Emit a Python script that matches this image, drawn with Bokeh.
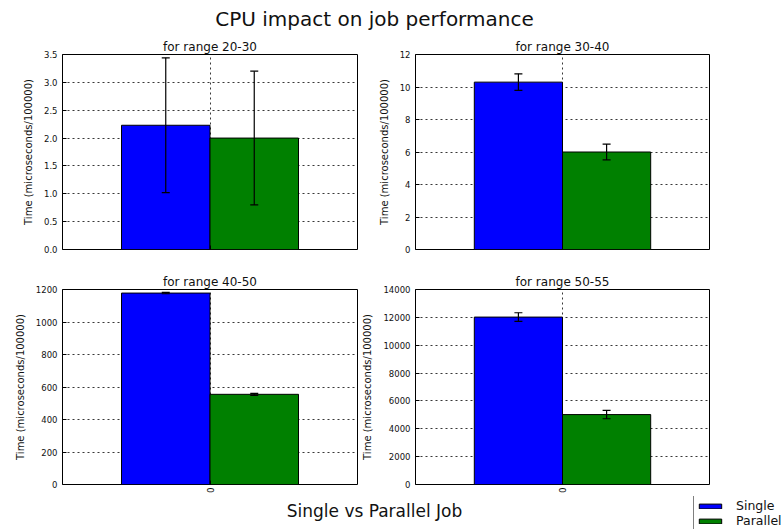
from bokeh.plotting import figure
from bokeh.layouts import column, row
from bokeh.models import (ColumnDataSource, Range1d, FixedTicker, NumeralTickFormatter,
                          Whisker, TeeHead, Legend, LegendItem)
from bokeh.transform import dodge
from bokeh.core.properties import value
from bokeh.embed import file_html
from bokeh.resources import INLINE

# ---- data -------------------------------------------------------------
age_ranges = ["20-30", "30-40", "40-50", "50-55"]
group = [0]
series = ["Single", "Parallel"]

single_time = [2.23, 10.3, 1178, 12020]
single_err = [1.21, 0.51, 4, 310]
parallel_time = [2.0, 6.0, 555, 5020]
parallel_err = [1.2, 0.49, 6, 300]

y_max = [3.5, 12, 1200, 14000]
y_ticks = [
    [0, 0.5, 1.0, 1.5, 2.0, 2.5, 3.0, 3.5],
    [0, 2, 4, 6, 8, 10, 12],
    [0, 200, 400, 600, 800, 1000, 1200],
    [0, 2000, 4000, 6000, 8000, 10000, 12000, 14000],
]
y_format = ["0.0", "0", "0", "0"]
colors = ["#0000ff", "#008000"]

FONT = "DejaVu Sans"
TXT = "#111111"
BAR_W = 0.3


def panel(i, width, height, b_left, b_right, b_top, b_bottom, show_xlabel):
    src = ColumnDataSource(dict(
        group=group,
        single=[single_time[i]],
        parallel=[parallel_time[i]],
        s_hi=[single_time[i] + single_err[i]],
        s_lo=[single_time[i] - single_err[i]],
        p_hi=[parallel_time[i] + parallel_err[i]],
        p_lo=[parallel_time[i] - parallel_err[i]],
    ))
    p = figure(width=width, height=height,
               x_range=Range1d(-0.5, 0.5), y_range=Range1d(0, y_max[i]),
               output_backend="svg", toolbar_location=None,
               min_border_left=b_left, min_border_right=b_right,
               min_border_top=b_top, min_border_bottom=b_bottom,
               background_fill_color="white", border_fill_color="white",
               outline_line_color="black", outline_line_width=1,
               outline_line_alpha=1.0)

    p.title.text = "for range " + age_ranges[i]
    p.title.align = "center"
    p.title.text_font = FONT
    p.title.text_font_size = "12px"
    p.title.text_font_style = "normal"
    p.title.text_color = TXT
    p.title.standoff = 2

    p.vbar(x=dodge("group", -BAR_W / 2), top="single", width=BAR_W,
           source=src, fill_color=colors[0], line_color="black", line_width=1)
    p.vbar(x=dodge("group", BAR_W / 2), top="parallel", width=BAR_W,
           source=src, fill_color=colors[1], line_color="black", line_width=1)

    for off, hi, lo in ((-BAR_W / 2, "s_hi", "s_lo"), (BAR_W / 2, "p_hi", "p_lo")):
        w = Whisker(source=src, base=dodge("group", off), upper=hi, lower=lo,
                    level="overlay", line_color="black", line_width=1.2,
                    upper_head=TeeHead(size=8, line_color="black", line_width=1.2),
                    lower_head=TeeHead(size=8, line_color="black", line_width=1.2))
        p.add_layout(w)

    # y axis
    p.yaxis.ticker = FixedTicker(ticks=y_ticks[i])
    p.yaxis.formatter = NumeralTickFormatter(format=y_format[i])
    p.yaxis.axis_label = "Time (microseconds/100000)"
    p.yaxis.axis_label_text_font = FONT
    p.yaxis.axis_label_text_font_size = "10px"
    p.yaxis.axis_label_text_font_style = "normal"
    p.yaxis.axis_label_text_color = TXT
    p.yaxis.axis_label_standoff = 7
    p.yaxis.major_label_text_font = FONT
    p.yaxis.major_label_text_font_size = "8.5px"
    p.yaxis.major_label_text_color = TXT
    p.yaxis.major_label_standoff = 5
    p.yaxis.major_tick_in = 4
    p.yaxis.major_tick_out = 0
    p.yaxis.minor_tick_line_color = None
    p.yaxis.axis_line_color = None
    p.yaxis.major_tick_line_color = "black"

    # x axis: a single group labelled 0
    p.xaxis.ticker = FixedTicker(ticks=group)
    p.xaxis.major_tick_in = 4
    p.xaxis.major_tick_out = 0
    p.xaxis.minor_tick_line_color = None
    p.xaxis.axis_line_color = None
    p.xaxis.major_tick_line_color = "black"
    p.xaxis.major_label_orientation = "vertical"
    p.xaxis.major_label_text_font = FONT
    p.xaxis.major_label_text_font_size = "8.5px"
    p.xaxis.major_label_text_color = TXT
    p.xaxis.major_label_standoff = 3
    if not show_xlabel:
        p.xaxis.major_label_text_alpha = 0.0

    # dotted grid
    for g in (p.xgrid, p.ygrid):
        g.grid_line_color = "#222222"
        g.grid_line_dash = "2 3"
        g.grid_line_width = 1
        g.grid_line_alpha = 0.9
    p.ygrid.ticker = FixedTicker(ticks=y_ticks[i])
    p.xgrid.ticker = FixedTicker(ticks=group)
    return p


tl = panel(0, 359, 227, 62, 2, 19, 13, False)
tr = panel(1, 422, 227, 56, 72, 19, 13, False)
bl = panel(2, 359, 234, 62, 2, 27, 12, True)
br = panel(3, 422, 234, 56, 72, 27, 12, True)

# header with the overall title
header = figure(width=781, height=35, x_range=Range1d(0, 781), y_range=Range1d(0, 35),
                output_backend="svg", toolbar_location=None,
                min_border=0, outline_line_color=None)
header.axis.visible = False
header.grid.visible = False
header.text(x=[374], y=[17], text=["CPU impact on job performance"],
            text_align="center", text_baseline="middle",
            text_font=value(FONT), text_font_size="20px", text_color=TXT)

# footer with the shared x label and the legend
footer = figure(width=781, height=33, x_range=Range1d(0, 781), y_range=Range1d(0, 33),
                output_backend="svg", toolbar_location=None,
                min_border=0, outline_line_color=None)
footer.axis.visible = False
footer.grid.visible = False
footer.text(x=[374], y=[19], text=["Single vs Parallel Job"],
            text_align="center", text_baseline="middle",
            text_font=value(FONT), text_font_size="17px", text_color=TXT)

# legend swatches: hidden renderers carrying the series styling
key_src = ColumnDataSource(dict(group=group, single=[single_time[3]],
                                parallel=[parallel_time[3]]))
r_single = footer.vbar(x="group", top="single", width=BAR_W, source=key_src,
                       fill_color=colors[0], line_color="black", visible=False)
r_parallel = footer.vbar(x="group", top="parallel", width=BAR_W, source=key_src,
                         fill_color=colors[1], line_color="black", visible=False)
legend = Legend(items=[LegendItem(label=series[0], renderers=[r_single]),
                       LegendItem(label=series[1], renderers=[r_parallel])],
                location=(693, -2), orientation="vertical",
                glyph_width=28, glyph_height=6, label_height=10,
                label_standoff=12, spacing=0, padding=2, margin=0,
                label_text_font=FONT, label_text_font_size="12.5px",
                label_text_color=TXT, border_line_color="black",
                border_line_width=1, background_fill_color="white",
                background_fill_alpha=1.0, inactive_fill_alpha=0.0)
footer.add_layout(legend)

layout = column(header, row(tl, tr), row(bl, br), footer)

with open("out.html", "w") as f:
    f.write(file_html(layout, INLINE))
